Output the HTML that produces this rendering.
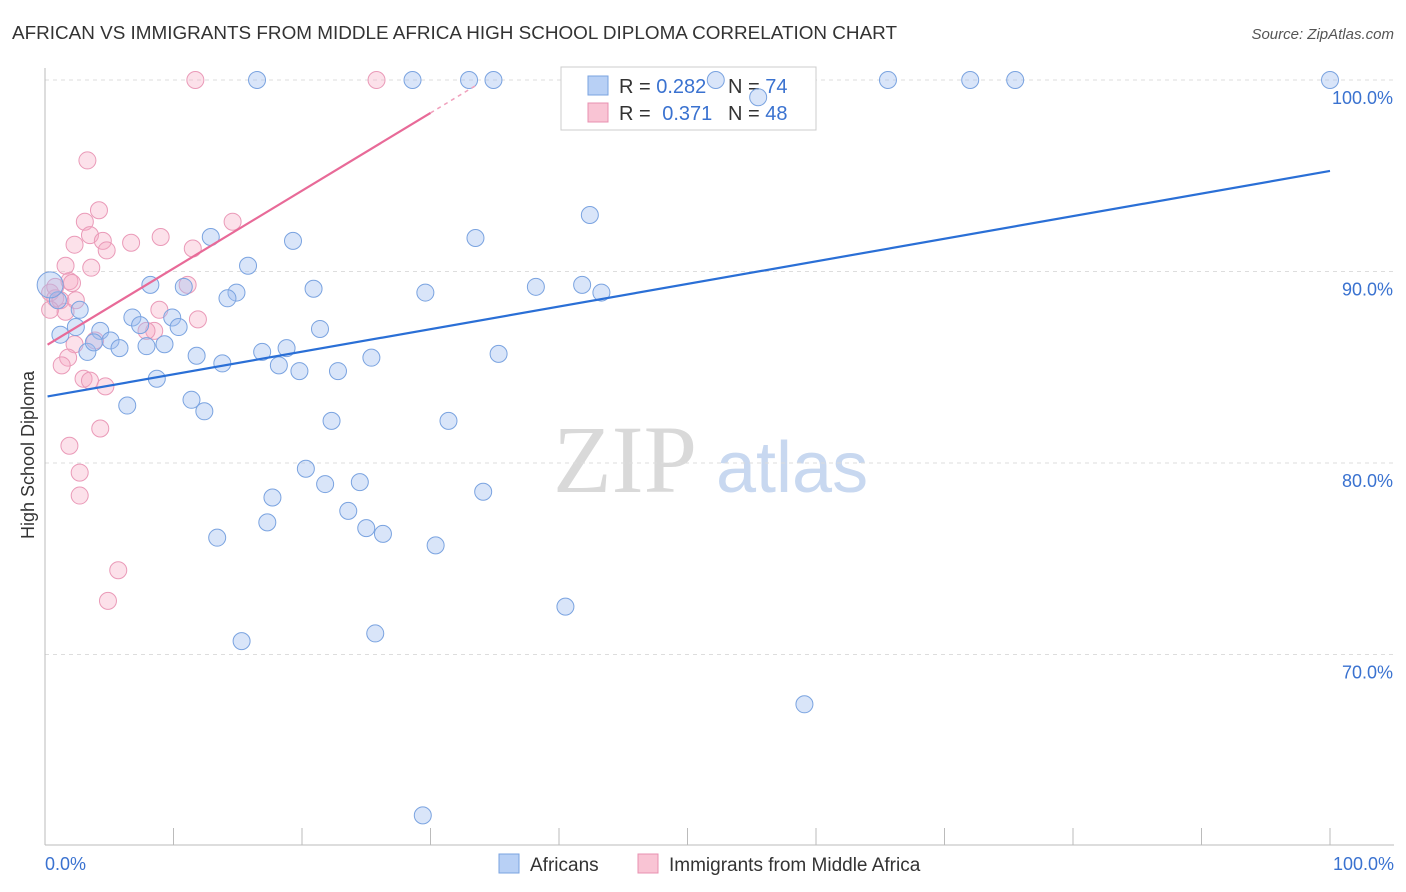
<!DOCTYPE html>
<html><head><meta charset="utf-8">
<style>
body{margin:0;background:#fff;font-family:"Liberation Sans",sans-serif;}
svg{display:block}
</style></head>
<body>
<svg id="chart" width="1406" height="892">
<text x="12" y="39" font-size="18" fill="#333" textLength="885" lengthAdjust="spacingAndGlyphs">AFRICAN VS IMMIGRANTS FROM MIDDLE AFRICA HIGH SCHOOL DIPLOMA CORRELATION CHART</text>
<text x="1394" y="39" font-size="15" fill="#555" font-style="italic" text-anchor="end">Source: ZipAtlas.com</text>
<g>
<text x="553" y="492" font-size="96" font-family="Liberation Serif,serif" fill="#d9d9d9">ZIP</text>
<text x="716" y="492" font-size="72" fill="#c8d8f0">atlas</text>
</g>
<text transform="translate(34,455) rotate(-90)" font-size="18" fill="#333" text-anchor="middle">High School Diploma</text>
<g id="grid"></g>
<g id="axes"></g>
<g>
<rect x="561" y="67" width="255" height="63" fill="#fff" stroke="#ccc"/>
<rect x="588" y="76" width="20" height="19" fill="#b8d0f5" stroke="#7aa3e0"/>
<rect x="588" y="103" width="20" height="19" fill="#f9c4d4" stroke="#e890b0"/>
<text x="619" y="93" font-size="20" fill="#333">R = <tspan fill="#3a72d0">0.282</tspan></text>
<text x="728" y="93" font-size="20" fill="#333">N = <tspan fill="#3a72d0">74</tspan></text>
<text x="619" y="120" font-size="20" fill="#333">R = <tspan fill="#3a72d0" dx="6">0.371</tspan></text>
<text x="728" y="120" font-size="20" fill="#333">N = <tspan fill="#3a72d0">48</tspan></text>
</g>
<g id="marks"></g>
<g>
<rect x="499" y="854" width="20" height="19" fill="#b8d0f5" stroke="#7aa3e0"/>
<text x="530" y="871" font-size="19" fill="#333">Africans</text>
<rect x="638" y="854" width="20" height="19" fill="#f9c4d4" stroke="#e890b0"/>
<text x="669" y="871" font-size="19" fill="#333">Immigrants from Middle Africa</text>
</g>
</svg>
<script>
const yTicks=[70,80,90,100];
const yTickLabels=["70.0%","80.0%","90.0%","100.0%"];
const xTickLabels=["0.0%","100.0%"];
const africansX=[16.5,28.6,33.0,34.9,52.2,55.5,65.6,72.0,75.5,100,42.4,12.9,19.3,33.5,15.8,8.2,10.8,14.9,14.2,20.9,29.6,38.2,41.8,43.3,1.0,2.7,1.2,2.4,4.3,3.3,3.8,5.1,5.8,6.8,7.4,9.9,10.4,7.9,9.3,11.8,16.9,18.8,21.4,25.4,35.3,13.8,18.2,19.8,22.8,8.7,6.4,11.4,12.4,22.3,31.4,20.3,17.7,21.8,24.5,34.1,23.6,17.3,25.0,26.3,13.4,30.4,40.5,25.7,15.3,59.1,29.4];
const africansY=[100,100,100,100,100,99.1,100,100,100,100,92.95,91.8,91.6,91.75,90.3,89.3,89.2,88.9,88.6,89.1,88.9,89.2,89.3,88.9,88.5,88.0,86.7,87.1,86.9,85.8,86.3,86.4,86.0,87.6,87.2,87.6,87.1,86.1,86.2,85.6,85.8,86.0,87.0,85.5,85.7,85.2,85.1,84.8,84.8,84.4,83.0,83.3,82.7,82.2,82.2,79.7,78.2,78.9,79.0,78.5,77.5,76.9,76.6,76.3,76.1,75.7,72.5,71.1,70.7,67.4,61.6];
const immX=[11.7,25.8,3.3,4.2,3.1,3.5,14.6,9.0,6.7,2.3,4.5,4.8,11.5,1.6,3.6,1.9,0.4,0.8,1.2,2.4,0.4,1.6,8.9,11.1,11.9,8.5,7.9,2.3,3.9,1.8,1.3,3.0,3.5,4.7,4.3,1.9,2.7,2.7,5.7,4.9,0.8,2.1];
const immY=[100,100,95.8,93.2,92.6,91.9,92.6,91.8,91.5,91.4,91.6,91.1,91.2,90.3,90.2,89.5,88.9,88.6,88.5,88.5,88.0,87.9,88.0,89.3,87.5,86.9,86.9,86.2,86.4,85.5,85.1,84.4,84.3,84.0,81.8,80.9,79.5,78.3,74.4,72.8,89.2,89.4];
const blueTrend=[83.45,95.25];
const pinkTrend=[86.1,98.28];
const NS='http://www.w3.org/2000/svg';
const X0=45,X1=1330,Y100=80,PXPER=19.15;
function sx(v){return X0+(X1-X0)*v/100;}
function sy(v){return Y100+(100-v)*PXPER;}
function mk(tag,attrs,parent){const e=document.createElementNS(NS,tag);for(const k in attrs)e.setAttribute(k,attrs[k]);parent.appendChild(e);return e;}
const grid=document.getElementById('grid'),axes=document.getElementById('axes'),marks=document.getElementById('marks');
yTicks.forEach((t,i)=>{
 const l=mk('line',{x1:45,x2:1394,y1:sy(t),y2:sy(t),stroke:'#ddd','stroke-dasharray':'4,4'},grid);
 
 
 const tx=mk('text',{x:1393,y:sy(t)+24,'font-size':18,fill:'#3a72d0','text-anchor':'end'},axes);
 tx.textContent=yTickLabels[i];
 
 
});
mk('line',{x1:45,x2:45,y1:68,y2:845,stroke:'#bbb'},axes);
mk('line',{x1:45,x2:1394,y1:845,y2:845,stroke:'#bbb'},axes);
for(let i=0;i<=10;i++){mk('line',{x1:sx(i*10),x2:sx(i*10),y1:828,y2:845,stroke:'#bbb'},axes);}
const xl=mk('text',{x:45,y:870,'font-size':18,fill:'#3a72d0'},axes);xl.textContent=xTickLabels[0];


const xr=mk('text',{x:1394,y:870,'font-size':18,fill:'#3a72d0','text-anchor':'end'},axes);xr.textContent=xTickLabels[1];


immX.forEach((v,i)=>{
 const c=mk('circle',{cx:sx(v),cy:sy(immY[i]),r:8.5,fill:'rgba(246,170,196,0.35)',stroke:'#ea9ab8','stroke-width':1},marks);
 
 
});
africansX.forEach((v,i)=>{
 const c=mk('circle',{cx:sx(v),cy:sy(africansY[i]),r:8.5,fill:'rgba(160,190,240,0.4)',stroke:'#7aa3e0','stroke-width':1},marks);
 
 
});
const big=mk('circle',{cx:sx(0.4),cy:sy(89.3),r:13,fill:'rgba(160,190,240,0.4)',stroke:'#7aa3e0'},marks);


const bl=mk('line',{x1:sx(0.2),y1:sy(blueTrend[0]+0.024),x2:sx(100),y2:sy(blueTrend[1]),stroke:'#2a6fd6','stroke-width':2.2},marks);


const slope=(pinkTrend[1]-pinkTrend[0])/30;
const pl=mk('line',{x1:sx(0.2),y1:sy(pinkTrend[0]+slope*0.2),x2:sx(30),y2:sy(pinkTrend[1]),stroke:'#e86a98','stroke-width':2.2},marks);


const pd=mk('line',{x1:sx(30),y1:sy(pinkTrend[1]),x2:sx(33.5),y2:sy(pinkTrend[0]+slope*33.5),stroke:'#f0a0bc','stroke-width':1.5,'stroke-dasharray':'4,4'},marks);


</script>
</body></html>
